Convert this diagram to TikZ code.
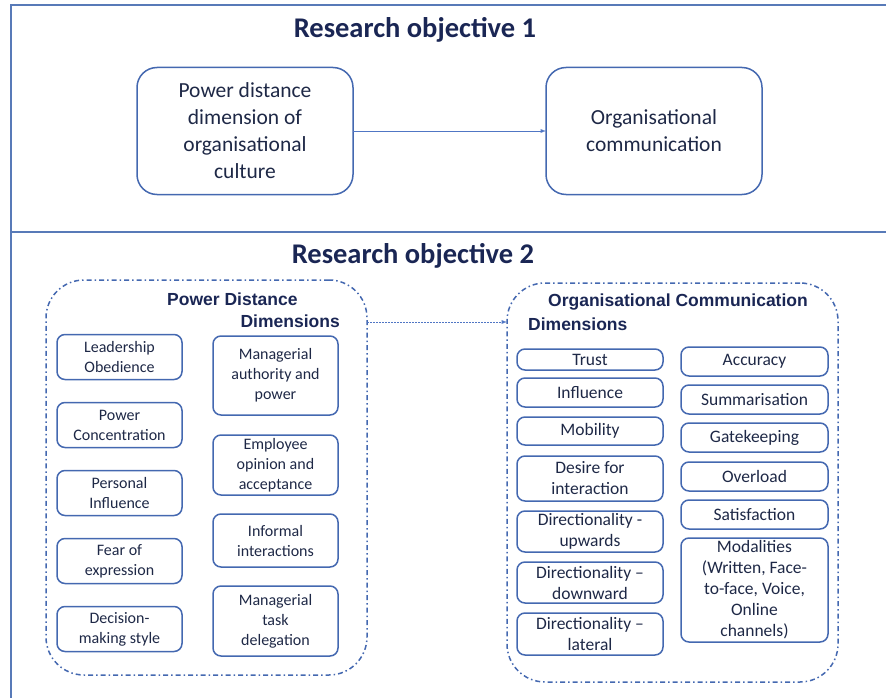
\documentclass[tikz,border=0pt]{standalone}
\usepackage{fontspec}
\setmainfont{Carlito}
\newfontfamily\dimfont{Liberation Sans}
\usepackage{xcolor}
\usetikzlibrary{positioning}

\begin{document}
\begin{tikzpicture}[x=1pt, y=-1pt,
    >=latex,
    frame/.style={line width=1.6pt, draw={rgb,255:red,88;green,122;blue,184}},
    title/.style={font=\fontsize{28.5}{32}\selectfont\bfseries,
                  text={rgb,255:red,26;green,38;blue,84}},
    bigbox/.style={
      draw={rgb,255:red,68;green,104;blue,176}, line width=1.5pt,
      rounded corners=20pt, minimum width=216pt, minimum height=127pt,
      align=center, inner sep=0pt, outer sep=0pt,
      text={rgb,255:red,30;green,40;blue,70},
      font=\fontsize{21.5}{27}\selectfont
    },
    group/.style={
      draw={rgb,255:red,68;green,104;blue,176}, line width=1.5pt,
      dash pattern=on 5pt off 3pt on 1.5pt off 3pt,
      rounded corners=38pt, outer sep=0pt
    },
    dimtitle/.style={font=\dimfont\fontsize{17.5}{20}\selectfont\bfseries,
                     text={rgb,255:red,26;green,38;blue,84}, inner sep=0pt},
    pdbox/.style={
      draw={rgb,255:red,68;green,104;blue,176}, line width=1.5pt,
      rounded corners=8pt, minimum width=125pt, inner sep=0pt, outer sep=0pt,
      align=center, text={rgb,255:red,30;green,40;blue,70},
      font=\fontsize{16}{20}\selectfont
    },
    ocbox/.style={
      pdbox, minimum width=146pt, font=\fontsize{17.5}{21}\selectfont
    },
    link/.style={line width=0.9pt, draw={rgb,255:red,80;green,118;blue,196}},
    dotlink/.style={link, dash pattern=on 1.5pt off 1.5pt}
  ]

  \useasboundingbox (0,0) rectangle (886,698);

  % ===== outer frame and divider =====
  \draw[frame] (11,698) -- (11,5) -- (886,5);
  \draw[frame] (11,232) -- (886,232);

  % ===== Research objective 1 =====
  \node[title] (obj1) at (415,30) {Research objective 1};

  \node[bigbox] (pdc) at (245,131) {Power distance\\dimension of\\organisational\\culture};
  \node[bigbox, right=193pt of pdc] (oc) {Organisational\\communication};
  \draw[->, link] (pdc) -- (oc);

  % ===== Research objective 2 =====
  \node[title] (obj2) at (413,256) {Research objective 2};

  % Power distance group
  \node[group, minimum width=321pt, minimum height=395pt] (pdd) at (206.5,477.5) {};
  \node[dimtitle, anchor=west] (pdt1) at (167,299) {Power Distance};
  \node[dimtitle, anchor=east] (pdt2) at (340,321) {Dimensions};

  % left column
  \node[pdbox, minimum height=45pt] (lead) at (119.5,357) {Leadership\\Obedience};
  \node[pdbox, minimum height=45pt, below=23pt of lead] (conc) {Power\\Concentration};
  \node[pdbox, minimum height=45pt, below=23pt of conc] (pinf) {Personal\\Influence};
  \node[pdbox, minimum height=45pt, below=23pt of pinf] (fear) {Fear of\\expression};
  \node[pdbox, minimum height=45pt, below=23pt of fear] (dec) {Decision-\\making style};

  % right column
  \node[pdbox, minimum height=79pt] (auth) at (275.5,375.5) {Managerial\\authority and\\power};
  \node[pdbox, minimum height=60pt, below=20pt of auth] (opin) {Employee\\opinion and\\acceptance};
  \node[pdbox, minimum height=53pt, below=19pt of opin] (infi) {Informal\\interactions};
  \node[pdbox, minimum height=70pt, below=19pt of infi] (task) {Managerial\\task\\delegation};

  % Organisational communication group
  \node[group, minimum width=331pt, minimum height=399pt] (occ) at (672.5,482.5) {};
  \node[dimtitle, anchor=west] (oct1) at (548,302) {Organisational Communication};
  \node[dimtitle, anchor=west] (oct2) at (528,324) {Dimensions};

  % left column
  \node[ocbox, minimum height=21pt] (trust) at (590,359.5) {Trust};
  \node[ocbox, minimum height=29pt, below=8pt of trust] (infl) {Influence};
  \node[ocbox, minimum height=28pt, below=10pt of infl] (mob) {Mobility};
  \node[ocbox, minimum height=45pt, below=11pt of mob] (desire) {Desire for\\interaction};
  \node[ocbox, minimum height=41pt, below=10pt of desire] (dup) {Directionality -\\upwards};
  \node[ocbox, minimum height=41pt, below=10pt of dup] (ddown) {Directionality --\\downward};
  \node[ocbox, minimum height=42pt, below=10pt of ddown] (dlat) {Directionality --\\lateral};

  % right column
  \node[ocbox, minimum width=147pt, minimum height=29pt] (acc) at (754.5,361.5) {Accuracy};
  \node[ocbox, minimum width=147pt, minimum height=29pt, below=9pt of acc] (summ) {Summarisation};
  \node[ocbox, minimum width=147pt, minimum height=29pt, below=9pt of summ] (gate) {Gatekeeping};
  \node[ocbox, minimum width=147pt, minimum height=29pt, below=10pt of gate] (over) {Overload};
  \node[ocbox, minimum width=147pt, minimum height=29pt, below=9pt of over] (sat) {Satisfaction};
  \node[ocbox, minimum width=147pt, minimum height=104pt, below=9pt of sat] (mod)
    {Modalities\\(Written, Face-\\to-face, Voice,\\Online\\channels)};

  % link between the two groups
  \draw[->, dotlink] ([yshift=155.5pt]pdd.east) -- ([yshift=155.5pt]pdd.east -| occ.west);

\end{tikzpicture}
\end{document}
